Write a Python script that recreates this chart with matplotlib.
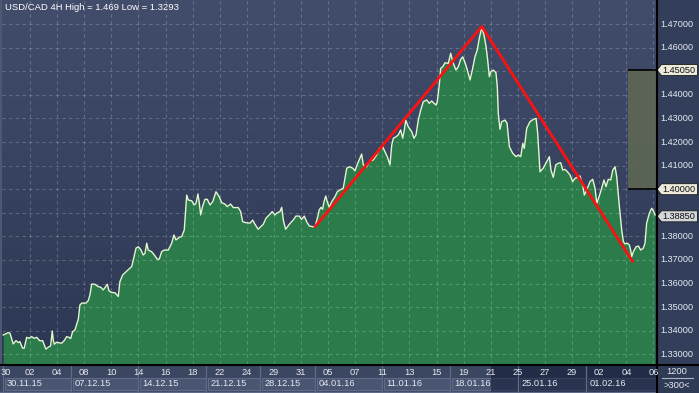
import numpy as np
import matplotlib
matplotlib.use("Agg")
import matplotlib.pyplot as plt
from matplotlib.transforms import blended_transform_factory, offset_copy
from matplotlib.patches import Rectangle, Polygon
from matplotlib.colors import LinearSegmentedColormap

plt.rcParams['font.family'] = ['Liberation Sans', 'DejaVu Sans']

# ---------------- data ----------------
title = "USD/CAD 4H High = 1.469 Low = 1.3293"

# position in trading days counted from Mon 30.11.15
bar_pos = [
    0.02, 0.39, 0.52, 0.76, 0.96, 1.13, 1.25, 1.45, 1.57, 1.75,
    1.94, 2.12, 2.31, 2.49, 2.73, 2.93, 3.17, 3.34, 3.52, 3.64,
    3.71, 3.79, 3.96, 4.33, 4.52, 4.70, 4.87, 5.00, 5.14, 5.31,
    5.56, 5.68, 5.81, 6.13, 6.30, 6.42, 6.55, 6.79, 7.03, 7.23,
    7.40, 7.53, 7.70, 7.82, 7.97, 8.27, 8.51, 8.63, 8.83, 9.08,
    9.37, 9.50, 9.62, 9.82, 9.99, 10.16, 10.35, 10.48, 10.61, 10.72,
    10.97, 11.17, 11.39, 11.54, 11.71, 11.90, 12.20, 12.45, 12.62, 12.77,
    13.01, 13.19, 13.38, 13.56, 13.68, 13.93, 14.10, 14.24, 14.39, 14.49,
    14.59, 14.74, 14.91, 15.08, 15.28, 15.48, 15.72, 15.96, 16.14, 16.38,
    16.55, 16.80, 17.00, 17.37, 17.54, 17.69, 17.93, 18.23, 18.43, 18.60,
    18.84, 19.02, 19.21, 19.41, 19.65, 19.87, 20.07, 20.24, 20.44, 20.57,
    20.69, 20.86, 21.05, 21.23, 21.42, 21.62, 21.87, 22.04, 22.24, 22.41,
    22.61, 22.86, 23.03, 23.20, 23.34, 23.47, 23.59, 23.69, 23.82, 23.93,
    24.08, 24.26, 24.50, 24.67, 24.87, 25.11, 25.24, 25.37, 25.56, 25.81,
    25.98, 26.10, 26.29, 26.47, 26.59, 26.84, 27.08, 27.33, 27.58, 27.77,
    28.02, 28.19, 28.36, 28.56, 28.69, 28.81, 29.00, 29.17, 29.35, 29.50,
    29.62, 29.72, 29.91, 30.16, 30.33, 30.48, 30.65, 30.83, 31.02, 31.27,
    31.46, 31.64, 31.81, 31.96, 32.05, 32.20, 32.30, 32.45, 32.62, 32.86,
    33.04, 33.19, 33.43, 33.60, 33.78, 33.93, 34.10, 34.27, 34.47, 34.66,
    34.83, 35.00, 35.15, 35.33, 35.50, 35.65, 35.77, 35.89, 36.01, 36.18,
    36.38, 36.48, 36.55, 36.68, 36.80, 37.05, 37.20, 37.37, 37.62, 37.86,
    38.03, 38.21, 38.36, 38.47, 38.65, 38.89, 39.14, 39.34, 39.46, 39.63,
    39.87, 40.13, 40.32, 40.44, 40.61, 40.79, 40.98, 41.16, 41.31, 41.48,
    41.65, 41.85, 42.04, 42.21, 42.38, 42.58, 42.78, 42.90, 43.08, 43.32,
    43.52, 43.69, 43.82, 43.99, 44.18, 44.35, 44.50, 44.67, 44.85, 45.00,
    45.17, 45.29, 45.49, 45.66, 45.78, 45.90, 46.07, 46.22, 46.32, 46.40,
    46.52, 46.72, 46.89, 47.06, 47.25, 47.38, 47.50, 47.70, 47.87, 47.99,
    48.12]

close = [
    1.3382, 1.3392, 1.3389, 1.3344, 1.3358, 1.3350, 1.3354, 1.3326, 1.3326, 1.3372,
    1.3368, 1.3375, 1.3368, 1.3372, 1.3357, 1.3358, 1.3322, 1.3330, 1.3336, 1.3399,
    1.3361, 1.3343, 1.3351, 1.3347, 1.3358, 1.3375, 1.3372, 1.3367, 1.3396, 1.3403,
    1.3449, 1.3509, 1.3517, 1.3517, 1.3528, 1.3552, 1.3598, 1.3597, 1.3587, 1.3584,
    1.3573, 1.3583, 1.3597, 1.3570, 1.3563, 1.3561, 1.3545, 1.3608, 1.3636, 1.3650,
    1.3665, 1.3672, 1.3700, 1.3750, 1.3756, 1.3745, 1.3721, 1.3728, 1.3771, 1.3742,
    1.3735, 1.3721, 1.3703, 1.3704, 1.3735, 1.3742, 1.3742, 1.3771, 1.3806, 1.3785,
    1.3796, 1.3799, 1.3827, 1.3975, 1.3954, 1.3951, 1.3933, 1.3940, 1.3980, 1.3940,
    1.3891, 1.3929, 1.3957, 1.3957, 1.3933, 1.3947, 1.3989, 1.3968, 1.3943, 1.3937,
    1.3926, 1.3937, 1.3922, 1.3922, 1.3905, 1.3862, 1.3858, 1.3856, 1.3869, 1.3851,
    1.3830, 1.3841, 1.3851, 1.3877, 1.3891, 1.3905, 1.3891, 1.3900, 1.3905, 1.3923,
    1.3869, 1.3830, 1.3845, 1.3858, 1.3869, 1.3886, 1.3886, 1.3872, 1.3886, 1.3862,
    1.3844, 1.3841, 1.3841, 1.3877, 1.3912, 1.3923, 1.3915, 1.3947, 1.3971, 1.3947,
    1.3923, 1.3947, 1.3968, 1.3989, 1.3997, 1.4004, 1.4046, 1.4089, 1.4095, 1.4089,
    1.4078, 1.4098, 1.4124, 1.4149, 1.4103, 1.4095, 1.4120, 1.4124, 1.4145, 1.4173,
    1.4180, 1.4159, 1.4138, 1.4103, 1.4187, 1.4216, 1.4222, 1.4230, 1.4251, 1.4216,
    1.4251, 1.4293, 1.4265, 1.4244, 1.4216, 1.4230, 1.4293, 1.4336, 1.4371, 1.4378,
    1.4364, 1.4374, 1.4364, 1.4357, 1.4371, 1.4442, 1.4512, 1.4519, 1.4536, 1.4533,
    1.4576, 1.4540, 1.4505, 1.4519, 1.4550, 1.4561, 1.4536, 1.4505, 1.4463, 1.4512,
    1.4561, 1.4590, 1.4639, 1.4686, 1.4653, 1.4604, 1.4547, 1.4477, 1.4498, 1.4505,
    1.4494, 1.4434, 1.4322, 1.4254, 1.4286, 1.4293, 1.4279, 1.4180, 1.4152, 1.4138,
    1.4145, 1.4138, 1.4194, 1.4173, 1.4258, 1.4286, 1.4296, 1.4300, 1.4237, 1.4074,
    1.4089, 1.4117, 1.4138, 1.4081, 1.4050, 1.4103, 1.4110, 1.4112, 1.4081, 1.4084,
    1.4074, 1.4060, 1.4032, 1.4046, 1.4050, 1.4056, 1.4018, 1.3975, 1.3997, 1.4032,
    1.4042, 1.4004, 1.3940, 1.3968, 1.4004, 1.4039, 1.4011, 1.4042, 1.4039, 1.4081,
    1.4095, 1.4053, 1.3926, 1.3827, 1.3778, 1.3768, 1.3771, 1.3764, 1.3742, 1.3714,
    1.3735, 1.3756, 1.3759, 1.3742, 1.3750, 1.3771, 1.3856, 1.3898, 1.3919, 1.3909,
    1.3891]

zigzag_pos = [23.03, 35.33, 46.47]
zigzag_price = [1.3841, 1.4690, 1.3693]

day_pos = list(range(0, 49, 2))
day_labels = ["30", "02", "04", "08", "10", "14", "16", "18", "22", "24", "29", "31",
              "05", "07", "11", "13", "15", "19", "21", "25", "27", "29", "02", "04", "06"]
week_start = [0, 5, 10, 15, 19, 23, 28, 33, 38, 43]
week_labels = ["30.11.15", "07.12.15", "14.12.15", "21.12.15", "28.12.15",
               "04.01.16", "11.01.16", "18.01.16", "25.01.16", "01.02.16"]
dim_from = 36

price_ticks = [1.33, 1.34, 1.35, 1.36, 1.37, 1.38, 1.39, 1.40, 1.41, 1.42,
               1.43, 1.44, 1.45, 1.46, 1.47]
level_hi = 1.4505
level_lo = 1.4000
last_price = 1.3885
zone_start = 46.1

# ---------------- figure ----------------
W, H = 699, 393
fig = plt.figure(figsize=(W / 100, H / 100), dpi=100, facecolor='#4d5873')

def px_rect(x0, y0, x1, y1):
    return [x0 / W, 1 - y1 / H, (x1 - x0) / W, (y1 - y0) / H]

X0, X1 = -0.07, 48.19
Y0, Y1 = 1.3259, 1.4802

ax = fig.add_axes(px_rect(2, 0, 656, 364), zorder=1)
grad = LinearSegmentedColormap.from_list('bg', ['#414d6b', '#2c3753'])
ax.imshow(np.linspace(0, 1, 256).reshape(-1, 1), extent=[X0, X1, Y0, Y1],
          aspect='auto', cmap=grad, origin='upper', zorder=0)
ax.set_xlim(X0, X1)
ax.set_ylim(Y0, Y1)
ax.set_autoscale_on(False)
ax.set_xticks([])
ax.set_yticks([])
for s in ax.spines.values():
    s.set_visible(False)

ax.fill_between(bar_pos, close, Y0, color='#2b7c4a', lw=0, zorder=2)
ax.plot(bar_pos, close, color='#e2f7cf', lw=1.0, zorder=3)

for d in day_pos[1:]:
    ax.axvline(d, color='white', alpha=0.2, lw=0.8, ls=(0, (3, 3)), zorder=4)
for p in price_ticks:
    ax.axhline(p, color='white', alpha=0.2, lw=0.8, ls=(0, (3, 3)), zorder=4)

ax.add_patch(Rectangle((zone_start, level_lo), X1 - zone_start, level_hi - level_lo,
                       fc='#5d6653', ec='none', alpha=0.92, zorder=5))
ax.hlines([level_lo, level_hi], zone_start, X1, color='black', lw=1.2, zorder=6)

ax.plot(zigzag_pos, zigzag_price, color='#ff1010', lw=2.0, zorder=7,
        solid_capstyle='round')

ax.text(0.004, 0.992, title, transform=ax.transAxes, ha='left', va='top',
        color='white', fontsize=6.8, zorder=8)

# ---------------- decorations (panels) ----------------
deco = fig.add_axes([0, 0, 1, 1], zorder=3)
deco.set_xlim(0, W)
deco.set_ylim(H, 0)
deco.set_autoscale_on(False)
deco.axis('off')
deco.patch.set_alpha(0)

deco.add_patch(Rectangle((656, 0), 43, 364, fc='#323e5a', ec='none'))
deco.add_patch(Rectangle((0, 364), 656, 29, fc='#3b4660', ec='none'))
deco.add_patch(Rectangle((656, 364), 43, 29, fc='#2f3a55', ec='none'))
deco.plot([0, 656], [392, 392], color='#5f6b88', lw=1.0)

tb = blended_transform_factory(ax.transData, deco.transData)
tr = blended_transform_factory(deco.transData, ax.transData)

# week boxes and separators
week_end = week_start[1:] + [X1]
for ws, we, lab in zip(week_start, week_end, week_labels):
    deco.add_patch(Rectangle((ws + 0.15, 378), we - ws - 0.15, 12, transform=tb,
                             fc='#4a5571', ec='#5f6b88', lw=0.8))
    deco.plot([ws, ws], [364, 393], transform=tb, color='#5f6b88', lw=0.9)
    deco.text(ws, 384, lab, transform=offset_copy(tb, fig=fig, x=4, y=0, units='dots'),
              ha='left', va='center', color='#e4e8f0', fontsize=6.7)
for d, lab in zip(day_pos, day_labels):
    if d == day_pos[0]:
        deco.text(d, 372.5, lab, transform=offset_copy(tb, fig=fig, x=-2, y=0, units='dots'),
                  ha='left', va='center', color='#e4e8f0', fontsize=6.7)
    else:
        deco.text(d, 372.5, lab, transform=tb, ha='center', va='center',
                  color='#e4e8f0', fontsize=6.7)
# dimmed part of the time axis
deco.add_patch(Rectangle((dim_from, 364.5), X1 - dim_from, 28.5, transform=tb,
                         fc='#0c1430', ec='none', alpha=0.5))

# corner
deco.text(677, 371.5, "1200", ha='center', va='center', color='#e4e8f0', fontsize=6.7)
deco.plot([662, 693], [378, 378], color='#aab3c6', lw=0.8)
deco.text(677, 385, ">300<", ha='center', va='center', color='#e4e8f0', fontsize=6.7)

# price tick labels
for p in price_ticks:
    if abs(p - level_hi) < 0.004 or abs(p - level_lo) < 0.004 or abs(p - last_price) < 0.004:
        continue
    deco.text(660, p, f"{p:.5f}", transform=tr, ha='left', va='center',
              color='#e6eaf2', fontsize=6.6)

def ypix(p):
    return H - ax.transData.transform((0, p))[1]

for p, fc in [(level_hi, '#eceadb'), (level_lo, '#eceadb'), (last_price, '#d3d6d8')]:
    yc = ypix(p)
    deco.add_patch(Polygon([(657, yc), (661.5, yc - 5.5), (697.5, yc - 5.5),
                            (697.5, yc + 5.5), (661.5, yc + 5.5)], closed=True,
                           fc=fc, ec='#1a1a1a', lw=0.6))
    deco.text(662, p, f"{p:.5f}", transform=tr, ha='left', va='center',
              color='#111111', fontsize=6.6)

# black frame lines
deco.plot([656.5, 656.5], [0, H], color='black', lw=1.5)
deco.plot([0, W], [364.5, 364.5], color='black', lw=1.5)

fig.savefig('out.png', dpi=100, facecolor=fig.get_facecolor())
